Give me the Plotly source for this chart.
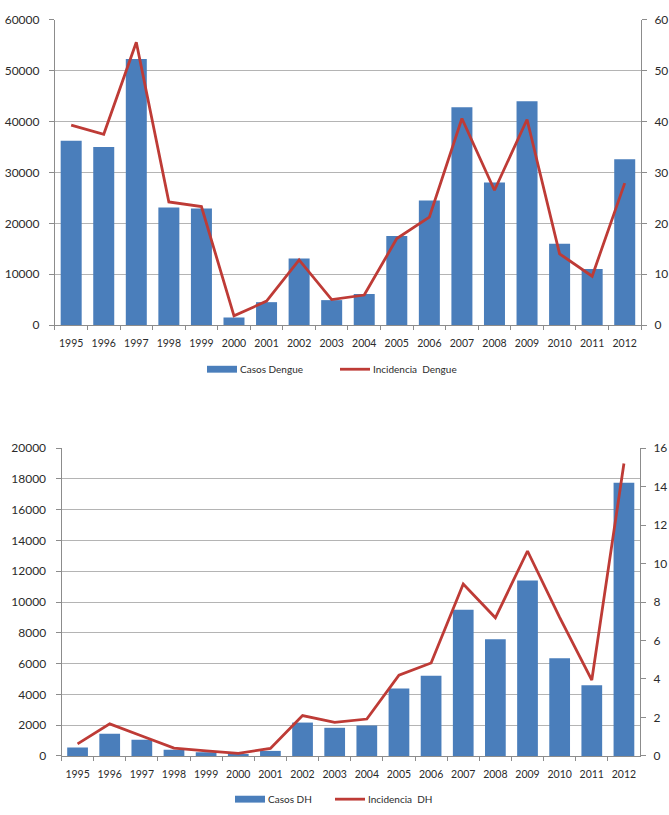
import plotly.graph_objects as go
from plotly.subplots import make_subplots

# Years shown on both category axes
years = ["1995", "1996", "1997", "1998", "1999", "2000", "2001", "2002", "2003",
         "2004", "2005", "2006", "2007", "2008", "2009", "2010", "2011", "2012"]

# Dengue: reported cases (left axis) and incidence (right axis)
casos_dengue = [36200, 35000, 52300, 23100, 22900, 1500, 4500, 13100, 4900,
                6100, 17500, 24500, 42800, 28000, 44000, 16000, 11000, 32600]
incidencia_dengue = [39.3, 37.5, 55.6, 24.2, 23.3, 1.8, 4.7, 12.8, 5.0,
                     5.9, 17.0, 21.2, 40.6, 26.5, 40.4, 14.0, 9.6, 27.9]

# Hemorrhagic dengue (DH): cases (left axis) and incidence (right axis)
casos_dh = [550, 1450, 1050, 400, 250, 100, 330, 2170, 1830,
            1980, 4380, 5210, 9490, 7580, 11400, 6350, 4600, 17750]
incidencia_dh = [0.63, 1.67, 1.04, 0.41, 0.27, 0.14, 0.39, 2.1, 1.75,
                 1.92, 4.2, 4.83, 8.94, 7.18, 10.65, 7.2, 3.94, 15.2]

BAR = "#4a7ebb"
LINE = "#be3b36"
GRID = "#b4b4b4"
AXIS = "#8c8c8c"
TXT = "#2b2b2b"
FONT = "Lato"

W, H = 669, 815

fig = make_subplots(rows=2, cols=1,
                    specs=[[{"secondary_y": True}], [{"secondary_y": True}]])

fig.add_trace(go.Bar(x=years, y=casos_dengue, name="Casos Dengue",
                     marker=dict(color=BAR, line=dict(width=0))),
              row=1, col=1, secondary_y=False)
fig.add_trace(go.Scatter(x=years, y=incidencia_dengue, name="Incidencia  Dengue",
                         mode="lines", line=dict(color=LINE, width=2.8)),
              row=1, col=1, secondary_y=True)
fig.add_trace(go.Bar(x=years, y=casos_dh, name="Casos DH",
                     marker=dict(color=BAR, line=dict(width=0))),
              row=2, col=1, secondary_y=False)
fig.add_trace(go.Scatter(x=years, y=incidencia_dh, name="Incidencia  DH",
                         mode="lines", line=dict(color=LINE, width=2.8)),
              row=2, col=1, secondary_y=True)


def px_x(v):
    return v / W


def px_y(v):
    return 1 - v / H


top_dom_x = [px_x(54.9), px_x(641)]
top_dom_y = [px_y(323), px_y(12)]
bot_dom_x = [px_x(61.5), px_x(640)]
bot_dom_y = [px_y(762), px_y(448.3)]

xcommon = dict(type="category", showline=True, linecolor=AXIS, linewidth=1,
               ticks="outside", tickson="boundaries", ticklen=4, tickcolor=AXIS,
               showgrid=False, tickangle=0, ticklabelstandoff=8,
               tickfont=dict(family=FONT, size=10.5, color=TXT))
yleft = dict(showline=True, linecolor=AXIS, linewidth=1, ticks="outside",
             ticklen=5, tickcolor=AXIS, zeroline=False, tickformat="d",
             ticklabelstandoff=7, showgrid=True, gridcolor=GRID, gridwidth=1,
             tickfont=dict(family=FONT, size=12, color=TXT))
yright = dict(showline=True, linecolor=AXIS, linewidth=1, ticks="outside",
              ticklen=5, tickcolor=AXIS, zeroline=False, tickformat="d",
              ticklabelstandoff=5, showgrid=False, side="right",
              tickfont=dict(family=FONT, size=12, color=TXT))

fig.update_layout(
    width=W, height=H,
    margin=dict(l=0, r=0, t=0, b=0),
    paper_bgcolor="white", plot_bgcolor="white",
    showlegend=False,
    bargap=0.355,
    xaxis=dict(domain=top_dom_x, anchor="y", **xcommon),
    yaxis=dict(domain=top_dom_y, anchor="x", range=[0, 60000], dtick=10000, **yleft),
    yaxis2=dict(domain=top_dom_y, anchor="x", overlaying="y",
                range=[0, 60], dtick=10, **yright),
    xaxis2=dict(domain=bot_dom_x, anchor="y3", **xcommon),
    yaxis3=dict(domain=bot_dom_y, anchor="x2", range=[0, 20000], dtick=2000, **yleft),
    yaxis4=dict(domain=bot_dom_y, anchor="x2", overlaying="y3",
                range=[0, 16], dtick=2, **yright),
)


# Hand-placed legends below each chart
def legend_row(y_px, bar_x, bar_label, line_x, line_label):
    yc = px_y(y_px)
    fig.add_shape(type="rect", xref="paper", yref="paper",
                  x0=px_x(bar_x), x1=px_x(bar_x + 30),
                  y0=px_y(y_px + 3.5), y1=px_y(y_px - 3.5),
                  fillcolor=BAR, line=dict(width=0))
    fig.add_annotation(xref="paper", yref="paper", x=px_x(bar_x + 31), y=yc,
                       text=bar_label, showarrow=False, xanchor="left",
                       yanchor="middle", font=dict(family=FONT, size=10, color=TXT))
    fig.add_shape(type="line", xref="paper", yref="paper",
                  x0=px_x(line_x), x1=px_x(line_x + 30), y0=yc, y1=yc,
                  line=dict(color=LINE, width=2.8))
    fig.add_annotation(xref="paper", yref="paper", x=px_x(line_x + 31), y=yc,
                       text=line_label, showarrow=False, xanchor="left",
                       yanchor="middle", font=dict(family=FONT, size=10, color=TXT))


legend_row(368, 207, "Casos Dengue", 340, "Incidencia&nbsp;&nbsp;Dengue")
legend_row(806, 235, "Casos DH", 335, "Incidencia&nbsp;&nbsp;DH")

fig.write_html("out.html")
